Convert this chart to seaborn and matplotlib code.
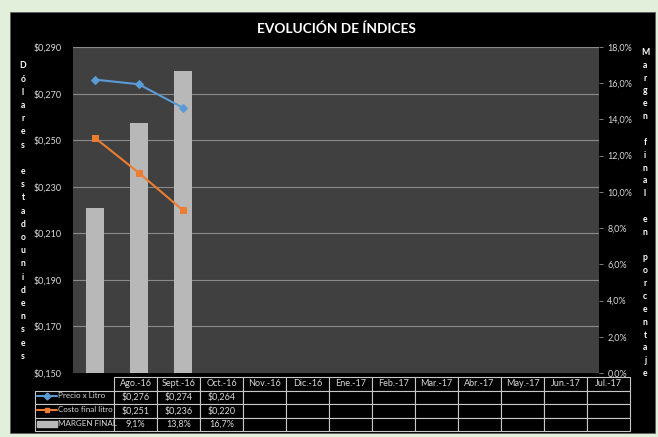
import matplotlib
matplotlib.use("Agg")
import matplotlib.pyplot as plt
import matplotlib.patches as mpatches
import matplotlib.ticker as mticker
import numpy as np
import pandas as pd
import seaborn as sns

# data
months = ['Ago.-16', 'Sept.-16', 'Oct.-16', 'Nov.-16', 'Dic.-16', 'Ene.-17',
          'Feb.-17', 'Mar.-17', 'Abr.-17', 'May.-17', 'Jun.-17', 'Jul.-17']
precio = [0.276, 0.274, 0.264]
costo = [0.251, 0.236, 0.220]
margen = [9.1, 13.8, 16.7]
row_labels = ['Precio x Litro', 'Costo final litro', 'MARGEN FINAL']

sns.set_theme(style="dark")
plt.rcParams['font.family'] = ['Lato', 'DejaVu Sans']

W, H = 658, 437
fig = plt.figure(figsize=(W / 100, H / 100), dpi=100, facecolor='#e2efda')

def fx(px):
    return px / W

def fy(py):
    return 1 - py / H

# black chart frame
fig.patches.append(mpatches.Rectangle((fx(10), fy(433)), fx(645), (433 - 12) / H,
                                      transform=fig.transFigure, facecolor='black',
                                      edgecolor='#606060', lw=0.6, zorder=-5))

left, right, top, bottom = 73, 599, 47, 373
rect = [fx(left), fy(bottom), fx(right - left), (bottom - top) / H]

BLUE = '#5b9bd5'
ORANGE = '#ed7d31'
BAR = '#b8b8b8'
TXT = '#d9d9d9'

ax = fig.add_axes(rect)
ax.set_facecolor('#404040')
ax.set_ylim(0.150, 0.290)
ax.set_yticks(np.arange(0.150, 0.2901, 0.020))
ax.yaxis.set_major_formatter(mticker.FuncFormatter(lambda v, p: f"${v:.3f}".replace('.', ',')))
ax.grid(axis='y', color='#8a8a8a', lw=0.8)
ax.grid(axis='x', visible=False)
ax.tick_params(axis='y', length=0, pad=8, labelsize=6.5, labelcolor=TXT)
ax.set_xlim(-0.5, len(months) - 0.5)
ax.set_xticks([])
for s in ax.spines.values():
    s.set_visible(False)

# bars on the percentage axis
ax_bar = ax.twinx()
df_bar = pd.DataFrame({'mes': months[:len(margen)], 'margen': margen})
sns.barplot(data=df_bar, x='mes', y='margen', order=months, color=BAR,
            saturation=1, width=0.41, linewidth=0, ax=ax_bar)
ax_bar.set_ylim(0, 18)
ax_bar.set_yticks(np.arange(0, 18.1, 2))
ax_bar.yaxis.set_major_formatter(mticker.FuncFormatter(lambda v, p: f"{v:.1f}%".replace('.', ',')))
ax_bar.tick_params(axis='y', right=True, length=3, width=0.6, color='#909090',
                   pad=3, labelsize=6.5, labelcolor=TXT)
ax_bar.set_xlim(-0.5, len(months) - 0.5)
ax_bar.set_xticks([])
ax_bar.set_xlabel('')
ax_bar.set_ylabel('')
ax_bar.patch.set_visible(False)
for s in ax_bar.spines.values():
    s.set_visible(False)

# lines on the dollar axis
ax_line = ax.twinx()
idx = [months.index(m) for m in months[:len(precio)]]
sns.lineplot(x=idx, y=precio, color=BLUE, marker='D', markersize=4.5,
             markeredgecolor=BLUE, lw=1.5, ax=ax_line)
sns.lineplot(x=idx, y=costo, color=ORANGE, marker='s', markersize=5,
             markeredgecolor=ORANGE, lw=1.5, ax=ax_line)
ax_line.set_ylim(0.150, 0.290)
ax_line.set_xlim(-0.5, len(months) - 0.5)
ax_line.set_yticks([])
ax_line.set_xticks([])
ax_line.patch.set_visible(False)
for s in ax_line.spines.values():
    s.set_visible(False)

# title and stacked axis titles
fig.text(fx(336), fy(29), 'EVOLUCIÓN DE ÍNDICES', color='white', fontsize=9.8,
         fontweight='bold', ha='center', va='center')
fig.text(fx(23), fy(211), '\n'.join('Dólares estadounidenses'), color='white',
         fontsize=6.2, fontweight='bold', ha='center', va='center', linespacing=1.6,
         multialignment='center')
fig.text(fx(645), fy(213), '\n'.join('Margen final en porcentaje'), color='white',
         fontsize=6.2, fontweight='bold', ha='center', va='center', linespacing=1.55,
         multialignment='center')

# data table
t_left, t_right, t_top, t_bottom = 35, 630, 377, 431
ax_tab = fig.add_axes([fx(t_left), fy(t_bottom), fx(t_right - t_left), (t_bottom - t_top) / H])
ax_tab.set_xlim(0, 1)
ax_tab.set_ylim(0, 1)
ax_tab.axis('off')

values = [precio, costo, margen]
fmts = [lambda v: f"${v:.3f}".replace('.', ','),
        lambda v: f"${v:.3f}".replace('.', ','),
        lambda v: f"{v:.1f}%".replace('.', ',')]
cell_text = [[''] + months]
for vals, f in zip(values, fmts):
    cell_text.append([''] + [f(v) for v in vals] + [''] * (len(months) - len(vals)))

lab_w = (114 - t_left) / (t_right - t_left)
col_w = (1 - lab_w) / len(months)
tab = ax_tab.table(cellText=cell_text, colWidths=[lab_w] + [col_w] * len(months),
                   cellLoc='center', bbox=[0, 0, 1, 1])
tab.auto_set_font_size(False)
tab.set_fontsize(6.5)
for (r, c), cell in tab.get_celld().items():
    cell.set_facecolor('black')
    cell.set_edgecolor('#c8c8c8')
    cell.set_linewidth(0.8)
    cell.get_text().set_color(TXT)
    if r == 0 and c == 0:
        cell.visible_edges = ''

header_frac = (389 - t_top) / (t_bottom - t_top)
row_h = (1 - header_frac) / 3
for i, (lab, col) in enumerate(zip(row_labels, [BLUE, ORANGE, BAR])):
    yc = 1 - header_frac - row_h * (i + 0.5)
    if i < 2:
        ax_tab.plot([0.004, 0.037], [yc, yc], color=col, lw=1.5)
        ax_tab.plot([0.0205], [yc], color=col, marker='D' if i == 0 else 's',
                    markersize=3.5)
    else:
        ax_tab.add_patch(mpatches.Rectangle((0.004, yc - 0.05), 0.033, 0.1, color=col))
    ax_tab.text(0.039, yc, lab, color=TXT, fontsize=5.8, ha='left', va='center')

fig.savefig('out.png', dpi=100, facecolor=fig.get_facecolor())
